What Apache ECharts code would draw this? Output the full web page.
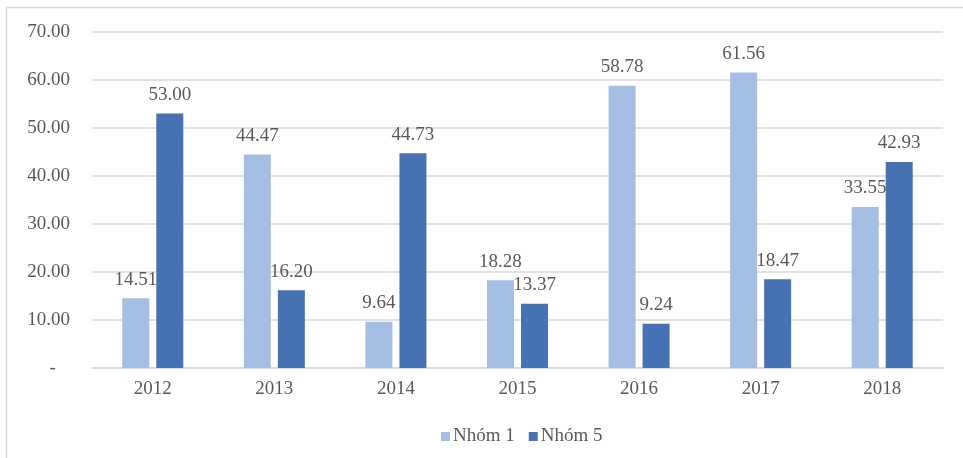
<!DOCTYPE html>
<html>
<head>
<meta charset="utf-8">
<script src="https://cdn.jsdelivr.net/npm/echarts@6/dist/echarts.min.js"></script>
<style>
  html, body { margin: 0; padding: 0; background: #fff; }
  #chart { width: 963px; height: 458px; }
</style>
</head>
<body>
<div id="chart"></div>
<script>
// Years on the category axis
const years = ['2012', '2013', '2014', '2015', '2016', '2017', '2018'];
// Group values
const nhom1 = [14.51, 44.47, 9.64, 18.28, 58.78, 61.56, 33.55];
const nhom5 = [53.00, 16.20, 44.73, 13.37, 9.24, 18.47, 42.93];
const seriesNames = ['Nhóm 1', 'Nhóm 5'];

const textColor = '#595959';
const fontFamily = '"Liberation Serif", "Times New Roman", serif';

const chart = echarts.init(document.getElementById('chart'), null, { renderer: 'canvas' });

function barSeries(name, data, color) {
  return {
    name: name,
    type: 'bar',
    data: data,
    barWidth: 27,
    barGap: '26%',
    itemStyle: { color: color },
    label: {
      show: true,
      position: 'top',
      distance: 9,
      color: textColor,
      fontFamily: fontFamily,
      fontSize: 19,
      formatter: p => p.value.toFixed(2)
    }
  };
}

chart.setOption({
  animation: false,
  backgroundColor: '#ffffff',
  textStyle: { fontFamily: fontFamily },
  graphic: [{
    type: 'rect',
    shape: { x: 6.5, y: 7.5, width: 1000, height: 500 },
    style: { fill: 'none', stroke: '#d9d9d9', lineWidth: 1.5 },
    silent: true,
    z: -1
  }],
  grid: { left: 92, right: 20, top: 32, bottom: 90 },
  legend: {
    data: seriesNames,
    left: 436,
    top: 422,
    itemWidth: 9,
    itemHeight: 9,
    itemGap: 14,
    icon: 'rect',
    textStyle: { color: textColor, fontFamily: fontFamily, fontSize: 19, padding: [0, 0, 0, -2] }
  },
  xAxis: {
    type: 'category',
    data: years,
    axisLine: { lineStyle: { color: '#d9d9d9', width: 1.5 } },
    axisTick: { show: false },
    axisLabel: { color: textColor, fontFamily: fontFamily, fontSize: 19, margin: 12 }
  },
  yAxis: {
    type: 'value',
    min: 0,
    max: 70,
    interval: 10,
    axisLine: { show: false },
    axisTick: { show: false },
    splitLine: { lineStyle: { color: '#d9d9d9', width: 1.5 } },
    axisLabel: {
      color: textColor,
      fontFamily: fontFamily,
      fontSize: 19,
      margin: 22,
      formatter: v => v === 0 ? '-   ' : v.toFixed(2)
    }
  },
  series: [
    barSeries(seriesNames[0], nhom1, '#a5bfe4'),
    barSeries(seriesNames[1], nhom5, '#4672b3')
  ]
});
</script>
</body>
</html>
